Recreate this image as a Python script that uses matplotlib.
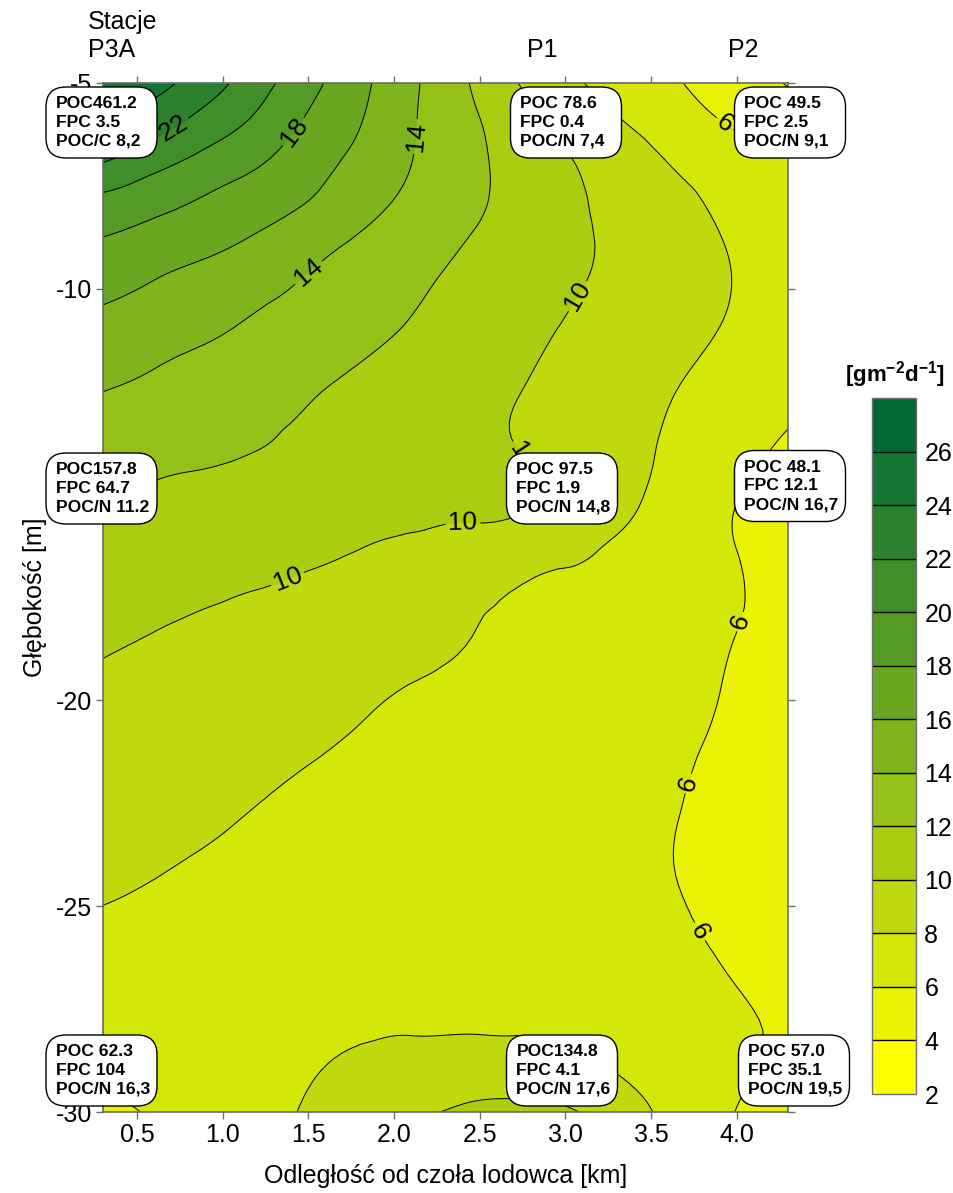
import numpy as np
import matplotlib
matplotlib.use('Agg')
import matplotlib.pyplot as plt
import matplotlib.tri as mtri
from matplotlib.patches import FancyBboxPatch
from matplotlib.transforms import IdentityTransform

plt.rcParams['font.family'] = ['Liberation Sans', 'DejaVu Sans']
plt.rcParams['axes.unicode_minus'] = False
plt.rcParams['mathtext.fontset'] = 'custom'
plt.rcParams['mathtext.rm'] = 'Liberation Sans'
plt.rcParams['mathtext.bf'] = 'Liberation Sans:bold'
plt.rcParams['mathtext.default'] = 'bf'

# ---------------- data ----------------
distance_km = [0.3, 0.6, 0.9, 1.2, 1.5, 1.8, 2.1, 2.4, 2.7, 3.0, 3.3, 3.6, 3.9, 4.3]
depth_m = [-5, -6, -7, -8, -9, -10, -11, -12.5, -14, -15.5, -17, -18.5,
           -20, -22, -24, -26, -28, -30]

flux_r05 = [25.8, 24.6, 22.95, 20.8, 18.64, 16.5, 14.36, 12.28, 10.14, 8.49, 7.3, 6.3, 5.28, 3.9]
flux_r06 = [24.4, 22.8, 21.15, 19.55, 17.68, 16.05, 14.19, 12.58, 11.03, 9.56, 8.22, 7.14, 6.1, 5.0]
flux_r07 = [21.8, 20.46, 19.2, 18.1, 16.78, 15.43, 14.0, 12.67, 11.41, 10.24, 9.13, 8.04, 7.16, 6.2]
flux_r08 = [19.2, 18.43, 17.62, 16.75, 15.84, 14.61, 13.49, 12.47, 11.46, 10.44, 9.5, 8.62, 7.78, 6.8]
flux_r09 = [17.66, 17.0, 16.35, 15.55, 14.58, 13.66, 12.82, 11.97, 11.2, 10.44, 9.66, 8.88, 8.1, 7.0]
flux_r10 = [16.42, 15.76, 15.09, 14.42, 13.73, 13.0, 12.27, 11.57, 10.9, 10.22, 9.55, 8.86, 8.18, 7.1]
flux_r11 = [15.39, 14.83, 14.26, 13.68, 13.07, 12.46, 11.85, 11.2, 10.54, 9.89, 9.26, 8.62, 7.98, 7.0]
flux_r12 = [14.0, 13.53, 13.07, 12.6, 12.14, 11.64, 11.12, 10.6, 10.09, 9.44, 8.78, 8.11, 7.42, 6.5]
flux_r14 = [12.7, 12.46, 12.22, 11.97, 11.6, 11.22, 10.84, 10.47, 10.09, 9.39, 8.6, 7.76, 6.75, 5.7]
flux_r15 = [11.66, 11.46, 11.26, 11.05, 10.85, 10.6, 10.35, 10.15, 10.04, 9.25, 8.31, 7.27, 6.18, 5.5]
flux_r17 = [10.93, 10.68, 10.44, 10.19, 9.9, 9.49, 9.08, 8.66, 8.25, 7.79, 7.28, 6.77, 6.26, 5.6]
flux_r18 = [10.2, 9.92, 9.61, 9.3, 8.99, 8.68, 8.37, 8.06, 7.69, 7.3, 6.91, 6.52, 6.13, 5.5]
flux_r20 = [9.65, 9.35, 9.06, 8.76, 8.46, 8.17, 7.86, 7.55, 7.24, 6.93, 6.61, 6.3, 5.99, 5.4]
flux_r22 = [9.0, 8.72, 8.43, 8.15, 7.88, 7.63, 7.38, 7.13, 6.87, 6.62, 6.37, 6.12, 5.8, 5.3]
flux_r24 = [8.35, 8.1, 7.88, 7.67, 7.47, 7.26, 7.06, 6.85, 6.65, 6.44, 6.24, 6.03, 5.7, 5.2]
flux_r26 = [7.57, 7.5, 7.4, 7.35, 7.35, 7.35, 7.35, 7.3, 7.2, 7.0, 6.7, 6.35, 5.9, 5.2]
flux_r28 = [6.62, 6.8, 7.1, 7.4, 7.65, 7.85, 7.92, 7.92, 7.88, 7.7, 7.2, 6.9, 6.4, 5.8]
flux_r30 = [5.85, 6.11, 6.8, 7.48, 8.16, 8.87, 9.58, 10.3, 10.55, 10.25, 9.05, 7.57, 6.3, 5.0]

levels = [2, 4, 6, 8, 10, 12, 14, 16, 18, 20, 22, 24, 26, 28]
label_levels = [6, 10, 14, 18, 22]
fill_colors = ['#FFFF00', '#EAF205', '#D5E609', '#BFD90E', '#AACD12', '#95C017',
               '#80B41C', '#6AA720', '#559A25', '#408E29', '#2B812E', '#157532',
               '#006837']

x_ticks = [0.5, 1.0, 1.5, 2.0, 2.5, 3.0, 3.5, 4.0]
y_ticks = [-5, -10, -15, -20, -25, -30]
y_tick_labels = ['-5', '-10', '', '-20', '-25', '-30']   # -15 is hidden behind a box
cbar_ticks = [2, 4, 6, 8, 10, 12, 14, 16, 18, 20, 22, 24, 26]

station_names = ['P3A', 'P1', 'P2']
box_texts = [
    'POC461.2\nFPC 3.5\nPOC/C 8,2',
    'POC 78.6\nFPC 0.4\nPOC/N 7,4',
    'POC 49.5\nFPC 2.5\nPOC/N 9,1',
    'POC157.8\nFPC 64.7\nPOC/N 11.2',
    'POC 97.5\nFPC 1.9\nPOC/N 14,8',
    'POC 48.1\nFPC 12.1\nPOC/N 16,7',
    'POC 62.3\nFPC 104\nPOC/N 16,3',
    'POC134.8\nFPC 4.1\nPOC/N 17,6',
    'POC 57.0\nFPC 35.1\nPOC/N 19,5',
]

# ---------------- layout ----------------
W, H = 954, 1193
fig = plt.figure(figsize=(W / 100, H / 100), dpi=100)
ax = fig.add_axes([103 / W, 1 - 1112 / H, 685 / W, 1029 / H])

flux = np.array([flux_r05, flux_r06, flux_r07, flux_r08, flux_r09, flux_r10,
                 flux_r11, flux_r12, flux_r14, flux_r15, flux_r17, flux_r18,
                 flux_r20, flux_r22, flux_r24, flux_r26, flux_r28, flux_r30])
X, Y = np.meshgrid(distance_km, depth_m)

# smooth (cubic) rendering of the gridded values with matplotlib's tri refiner,
# done on normalised coordinates so the interpolation is isotropic
sx, sy = 4.0, 25.0
tri_n = mtri.Triangulation(X.ravel() / sx, Y.ravel() / sy)
refiner = mtri.UniformTriRefiner(tri_n)
tri_r, z_r = refiner.refine_field(flux.ravel(), subdiv=3)
tri_plot = mtri.Triangulation(tri_r.x * sx, tri_r.y * sy, tri_r.triangles)

cf = ax.tricontourf(tri_plot, z_r, levels=levels, colors=fill_colors)
plain_levels = [v for v in levels if v not in label_levels]
ax.tricontour(tri_plot, z_r, levels=plain_levels, colors='black', linewidths=0.7)
cs_lab = ax.tricontour(tri_plot, z_r, levels=label_levels, colors='black', linewidths=0.7)

label_spots = [(0.71, -6.07), (1.42, -6.2), (2.14, -6.3), (1.52, -9.7),
               (3.08, -10.2), (2.79, -13.95), (2.4, -15.95), (1.38, -17.07),
               (3.93, -6.0), (4.03, -18.1), (3.74, -22.05), (3.77, -25.65)]
ax.clabel(cs_lab, manual=label_spots, inline=True,
          fontsize=19, fmt='%d', colors='black', inline_spacing=3)

ax.set_xlim(0.3, 4.3)
ax.set_ylim(-30, -5)
ax.set_xticks(x_ticks)
ax.set_xticklabels([f'{v:.1f}' for v in x_ticks])
ax.set_yticks(y_ticks)
ax.set_yticklabels(y_tick_labels)
ax.tick_params(direction='out', length=5, width=1, color='#707070',
               labelsize=18, pad=3, top=True, right=True)
for s in ax.spines.values():
    s.set_color('#6a6a6a')
    s.set_linewidth(1.2)

ax.set_xlabel('Odległość od czoła lodowca [km]', fontsize=18)
ax.xaxis.set_label_coords(0.5, -0.051)
ax.set_ylabel('Głębokość [m]', fontsize=18)
ax.yaxis.set_label_coords(-0.082, 0.5)

# station header
fig.text(88 / W, 1 - 29 / H, 'Stacje', fontsize=18, va='baseline', ha='left')
for name, px in zip(station_names, [88, 527, 728]):
    fig.text(px / W, 1 - 57 / H, name, fontsize=18, va='baseline', ha='left')

# station boxes (pixel geometry)
box_centers = [(101.5, 122.5), (566, 122.5), (790, 122.5),
               (101.5, 488.5), (562, 488.5), (790, 486),
               (101.5, 1070.5), (562, 1070.5), (794, 1070.5)]
bw, bh = 111, 71
for (cx, cy), txt in zip(box_centers, box_texts):
    x0 = cx - bw / 2
    y0 = H - cy - bh / 2
    patch = FancyBboxPatch((x0, y0), bw, bh,
                           boxstyle='round,pad=0,rounding_size=20',
                           transform=IdentityTransform(), facecolor='white',
                           edgecolor='black', linewidth=1.0, zorder=20)
    fig.add_artist(patch)
    t = matplotlib.text.Text(x0 + 10, H - cy, txt, transform=IdentityTransform(),
                             fontsize=12.6, fontweight='bold', ha='left',
                             va='center', linespacing=1.3, zorder=21)
    fig.add_artist(t)

# colorbar
cax = fig.add_axes([872 / W, 1 - 1094 / H, 44 / W, 696 / H])
cb = fig.colorbar(cf, cax=cax, ticks=cbar_ticks, drawedges=True)
cb.dividers.set_color('black')
cb.dividers.set_linewidth(1.0)
cb.outline.set_edgecolor('#707070')
cb.outline.set_linewidth(1.0)
cax.tick_params(length=0, labelsize=18, pad=6)
cax.set_yticklabels([str(v) for v in cbar_ticks])
fig.text(895 / W, 1 - 382 / H, '[gm$^{-2}$d$^{-1}$]', fontsize=16,
         fontweight='bold', ha='center', va='baseline')

fig.savefig('out.png', dpi=100)
